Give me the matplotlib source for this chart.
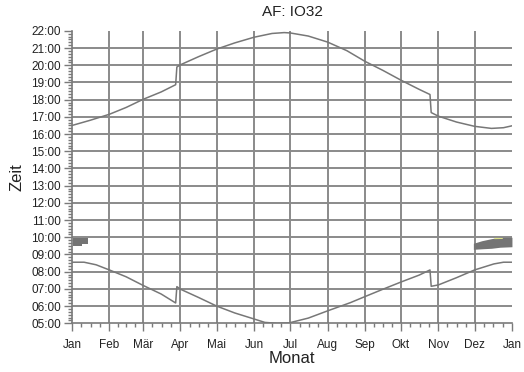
import matplotlib
matplotlib.use("Agg")
import matplotlib.pyplot as plt
from matplotlib.ticker import FixedLocator, MultipleLocator, FuncFormatter

plt.rcParams['font.family'] = ['Liberation Sans', 'DejaVu Sans']

# month starts (day of year) and labels
month_days = [0, 31, 59, 90, 120, 151, 181, 212, 243, 273, 304, 334, 365]
month_labels = ['Jan', 'Feb', 'Mär', 'Apr', 'Mai', 'Jun', 'Jul', 'Aug',
                'Sep', 'Okt', 'Nov', 'Dez', 'Jan']

# sunset curve (hours)
set_days = [0, 15, 31, 45, 59, 74, 86, 87, 90, 105, 120, 135, 151, 166, 176,
            181, 196, 212, 228, 243, 258, 273, 288, 297, 298, 304, 319, 334,
            348, 358, 365]
set_hours = [16.50, 16.80, 17.15, 17.55, 18.02, 18.45, 18.87, 19.90, 20.03,
             20.50, 20.94, 21.30, 21.63, 21.85, 21.90, 21.88, 21.70, 21.35,
             20.85, 20.23, 19.70, 19.13, 18.60, 18.30, 17.25, 17.04, 16.70,
             16.45, 16.33, 16.37, 16.48]

# sunrise curve (hours)
rise_days = [0, 10, 20, 31, 45, 59, 74, 86, 87, 90, 105, 120, 135, 151, 160,
             170, 180, 196, 212, 231, 243, 258, 273, 288, 297, 298, 304, 319,
             334, 350, 358, 365]
rise_hours = [8.55, 8.55, 8.40, 8.10, 7.70, 7.20, 6.70, 6.18, 7.13, 6.98,
              6.50, 6.00, 5.60, 5.25, 5.05, 5.00, 5.02, 5.30, 5.72, 6.20,
              6.55, 6.98, 7.40, 7.80, 8.10, 7.15, 7.23, 7.65, 8.10, 8.45,
              8.55, 8.55]

# grey bands of observations
jan_days = [0.5, 8, 8, 13]
jan_top = [9.98, 9.98, 9.98, 9.98]
jan_bot = [9.50, 9.50, 9.60, 9.60]
dec_days = [333, 340, 348, 355, 365]
dec_top = [9.65, 9.80, 9.92, 10.0, 10.0]
dec_bot = [9.30, 9.33, 9.36, 9.42, 9.45]
hl_days = [350, 357]
hl_top = [9.99, 9.99]
hl_bot = [9.92, 9.93]

fig = plt.figure(figsize=(5.24, 3.72), dpi=100)
ax = fig.add_axes([0.1374, 0.131, 0.8396, 0.786])

gcol = '#8a8a8a'
for d in month_days[1:-1]:
    ax.axvline(d, color=gcol, lw=1.4, zorder=1)
for h in range(6, 22):
    ax.axhline(h, color=gcol, lw=1.4, zorder=1)

ax.plot(set_days, set_hours, color='#777777', lw=1.1, zorder=3)
ax.plot(rise_days, rise_hours, color='#777777', lw=1.1, zorder=3)
ax.fill_between(jan_days, jan_bot, jan_top, color='#747474', lw=0, zorder=4)
ax.fill_between(dec_days, dec_bot, dec_top, color='#747474', lw=0, zorder=4)
ax.fill_between(hl_days, hl_bot, hl_top, color='#dfe58a', lw=0, zorder=5)

ax.set_xlim(0, 365)
ax.set_ylim(5, 22)

ax.xaxis.set_major_locator(FixedLocator(month_days))
ax.set_xticklabels(month_labels)
minor_x = []
for a, b in zip(month_days[:-1], month_days[1:]):
    minor_x += [a + (b - a) * k / 4 for k in (1, 2, 3)]
ax.xaxis.set_minor_locator(FixedLocator(minor_x))
ax.yaxis.set_major_locator(MultipleLocator(1))
ax.yaxis.set_minor_locator(MultipleLocator(1 / 6))
ax.yaxis.set_major_formatter(FuncFormatter(lambda v, p: '%02d:00' % round(v)))

for s in ('top', 'right'):
    ax.spines[s].set_visible(False)
for s in ('left', 'bottom'):
    ax.spines[s].set_color('#7a7a7a')
    ax.spines[s].set_linewidth(1.2)

ax.tick_params(which='major', length=6, width=1, color='#7a7a7a',
               labelsize=8.5, labelcolor='#222222', pad=2)
ax.tick_params(which='minor', length=3, width=1, color='#7a7a7a')
ax.tick_params(axis='x', which='major', pad=5)

ax.set_title('AF: IO32', fontsize=11, color='#222222', pad=11)
ax.set_xlabel('Monat', fontsize=12, color='#222222', labelpad=0)
ax.set_ylabel('Zeit', fontsize=12, color='#222222', labelpad=5)

fig.savefig('out.png', dpi=100)
